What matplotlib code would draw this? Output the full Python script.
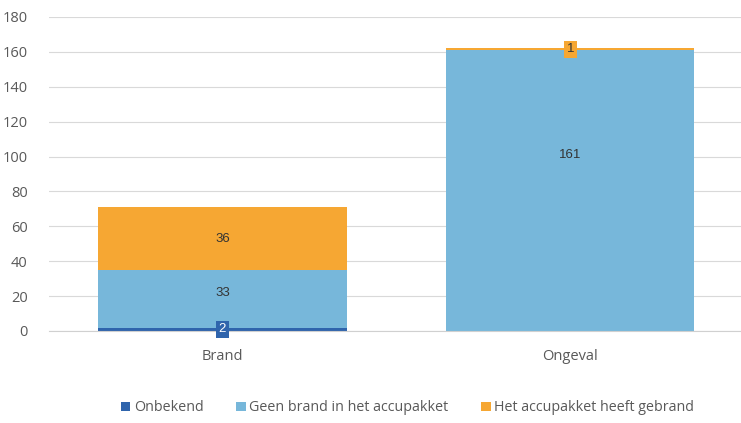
import numpy as np
import matplotlib
matplotlib.use("Agg")
from matplotlib import pyplot as plt

plt.rcParams['font.family'] = ['Open Sans', 'DejaVu Sans']

# data
categories = ["Brand", "Ongeval"]
onbekend = [2, 0]
geen_brand = [33, 161]
wel_brand = [36, 1]
series_names = ["Onbekend", "Geen brand in het accupakket", "Het accupakket heeft gebrand"]
colors = ["#2F64AC", "#77B7DA", "#F6A733"]

# where the original put its labels, as a fraction of the segment height
label_frac = [[0.5, 0.5], [0.6, 0.625], [0.5, 0.5]]

fig = plt.figure(figsize=(7.41, 4.23), dpi=100)
ax = fig.add_axes([0.0655, 0.2175, 0.939, 0.7425])

x = np.arange(len(categories))
w = 0.713
bottom = np.zeros(len(categories))
all_series = [onbekend, geen_brand, wel_brand]
for k, (vals, name, col) in enumerate(zip(all_series, series_names, colors)):
    vals = np.array(vals, dtype=float)
    ax.bar(x, vals, w, bottom=bottom, color=col, label=name, zorder=2)
    for i, (xi, v, b) in enumerate(zip(x, vals, bottom)):
        if v == 0:
            continue
        y = b + v * label_frac[k][i]
        if v < 5:
            # tiny segments get a coloured box behind the label
            txtcol = "white" if k == 0 else "#333333"
            ax.text(xi, y, str(int(v)), ha="center", va="center", fontsize=9.5,
                    color=txtcol, zorder=3, family="Liberation Sans",
                    bbox=dict(boxstyle="square,pad=0.2", fc=col, ec="none"))
        else:
            ax.text(xi, y, str(int(v)), ha="center", va="center", fontsize=9.5,
                    color="#333333", zorder=3, family="Liberation Sans")
    bottom += vals

ax.set_xlim(-0.5, 1.5)
ax.set_ylim(0, 180)
ax.set_yticks(range(0, 181, 20))
ax.set_xticks(x)
ax.set_xticklabels(categories)
ax.yaxis.grid(True, color="#D9D9D9", linewidth=0.8, zorder=0)
ax.set_axisbelow(True)
for s in ["top", "right", "left"]:
    ax.spines[s].set_visible(False)
ax.spines["bottom"].set_color("#D0D0D0")
ax.spines["bottom"].set_zorder(2.5)
ax.tick_params(axis="both", length=0, labelsize=10.5, colors="#595959")
ax.tick_params(axis="x", pad=13)
ax.tick_params(axis="y", pad=15)

ax.legend(loc="center", bbox_to_anchor=(0.516, -0.245), ncol=3, frameon=False,
          fontsize=10.3, handlelength=0.65, handleheight=0.65, columnspacing=2.3,
          handletextpad=0.25, labelcolor="#595959")

fig.savefig("out.png", dpi=100)
